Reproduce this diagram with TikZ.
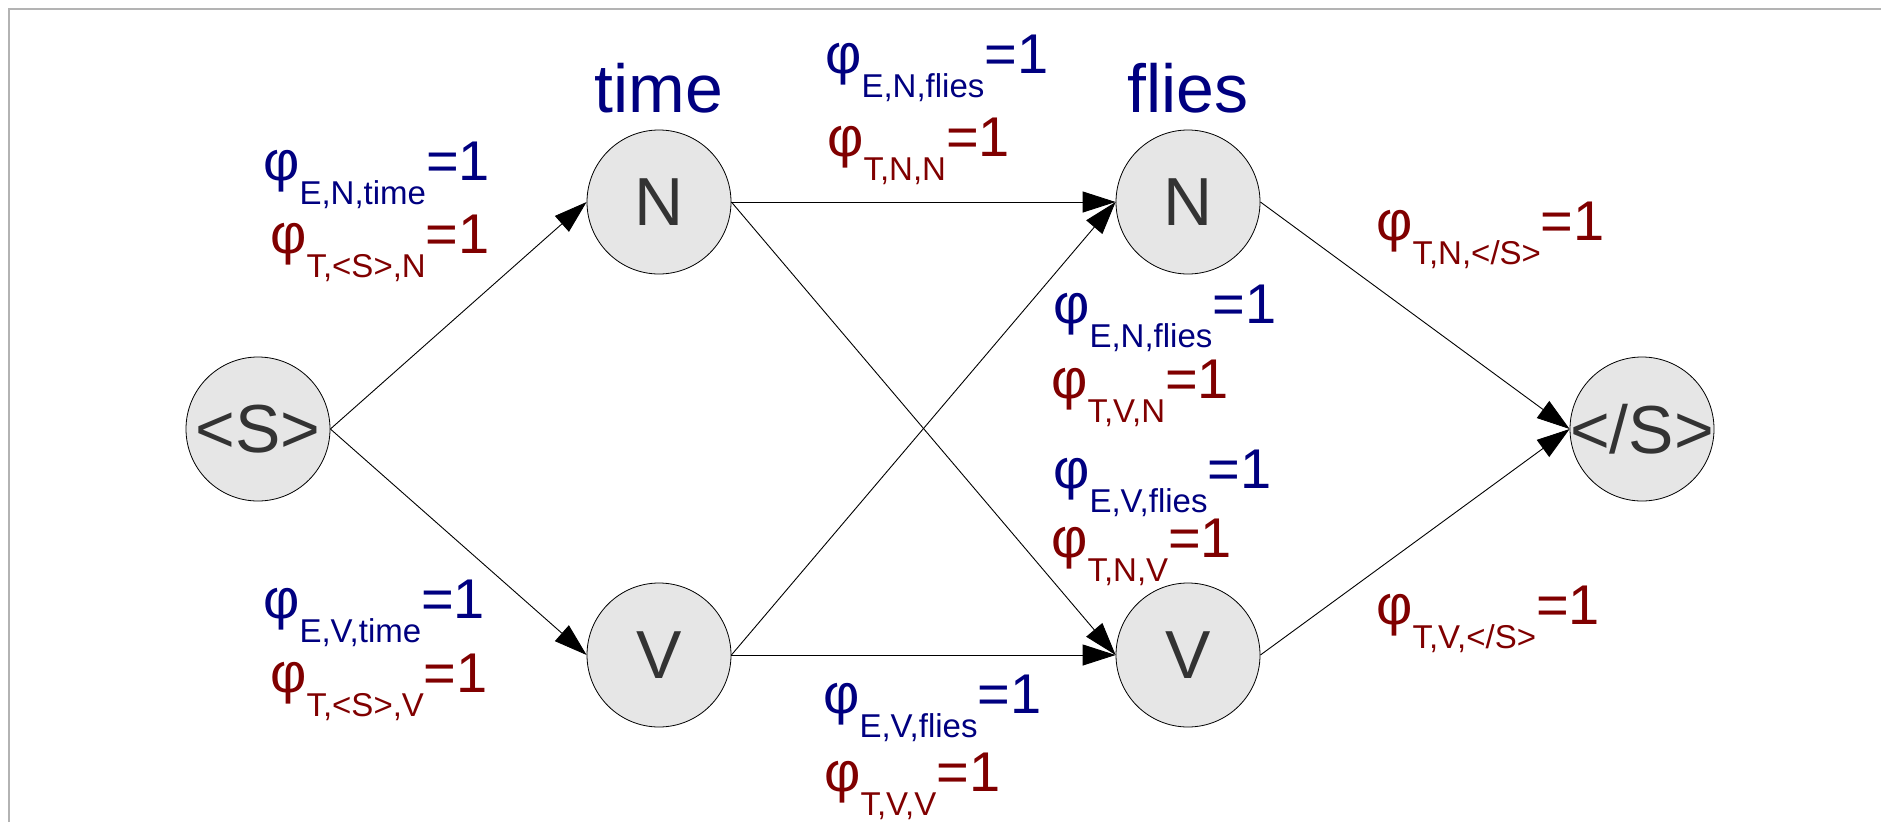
\documentclass[tikz,border=0pt]{standalone}
\usepackage{fontspec}
\setmainfont{Liberation Sans}
\usetikzlibrary{arrows.meta}
\definecolor{featblue}{HTML}{000080}
\definecolor{featred}{HTML}{800000}
\definecolor{tagfill}{HTML}{E6E6E6}
\definecolor{tagtext}{HTML}{333333}
\definecolor{framegray}{HTML}{B3B3B3}
% feature weight: phi, lowered subscript, value
\newcommand{\feat}[1]{φ\raisebox{-24pt}{\fontsize{33}{33}\selectfont #1}=1}

\begin{document}
\begin{tikzpicture}[x=1pt,y=-1pt,
  tagnode/.style={circle,draw,line width=0.8pt,fill=tagfill,minimum size=144pt,inner sep=0pt,
    text=tagtext,font=\fontsize{68}{68}\selectfont},
  word/.style={anchor=base,inner sep=0pt,text=featblue,font=\fontsize{68}{68}\selectfont},
  emit/.style={anchor=base west,inner sep=0pt,text=featblue,font=\fontsize{56}{56}\selectfont},
  trans/.style={anchor=base west,inner sep=0pt,text=featred,font=\fontsize{56}{56}\selectfont},
  arc/.style={line width=0.9pt,-{Triangle[length=33pt,width=21pt]}}]
  \useasboundingbox (0,0) rectangle (1881,822);
  \draw[framegray,line width=1.5pt] (9,822) -- (9,9) -- (1881,9);

  % lattice
  \node[tagnode] (start) at (258,429) {<S>};
  \node[tagnode] (timeN) at (659,202) {N};
  \node[tagnode] (timeV) at (659,655) {V};
  \node[tagnode] (fliesN) at (1188,202) {N};
  \node[tagnode] (fliesV) at (1188,655) {V};
  \node[tagnode] (stop) at (1642,429) {\makebox[0pt]{</S>}};
  \node[word] (wtime) at (659,112) {time};
  \node[word] (wflies) at (1188,112) {flies};

  \draw[arc] (start.east) -- (timeN.west);
  \draw[arc] (start.east) -- (timeV.west);
  \draw[arc] (timeN.east) -- (fliesN.west);
  \draw[arc] (timeN.east) -- (fliesV.west);
  \draw[arc] (timeV.east) -- (fliesN.west);
  \draw[arc] (timeV.east) -- (fliesV.west);
  \draw[arc] (fliesN.east) -- (stop.west);
  \draw[arc] (fliesV.east) -- (stop.west);

  % weights
  \node[emit] (eNtime) at (263,180) {\feat{E,N,time}};
  \node[trans] (tSN) at (270,253) {\feat{T,<S>,N}};
  \node[emit] (eVtime) at (263,618) {\feat{E,V,time}};
  \node[trans] (tSV) at (270,692) {\feat{T,<S>,V}};
  \node[emit] (eNfliesA) at (825,73) {\feat{E,N,flies}};
  \node[trans] (tNN) at (827,156) {\feat{T,N,N}};
  \node[emit] (eNfliesB) at (1053,323) {\feat{E,N,flies}};
  \node[trans] (tVN) at (1051,398) {\feat{T,V,N}};
  \node[emit] (eVfliesA) at (1053,488) {\feat{E,V,flies}};
  \node[trans] (tNV) at (1051,557) {\feat{T,N,V}};
  \node[emit] (eVfliesB) at (823,713) {\feat{E,V,flies}};
  \node[trans] (tVV) at (824,791) {\feat{T,V,V}};
  \node[trans] (tNE) at (1376,240) {\feat{T,N,</S>}};
  \node[trans] (tVE) at (1376,624) {\feat{T,V,</S>}};
\end{tikzpicture}
\end{document}
